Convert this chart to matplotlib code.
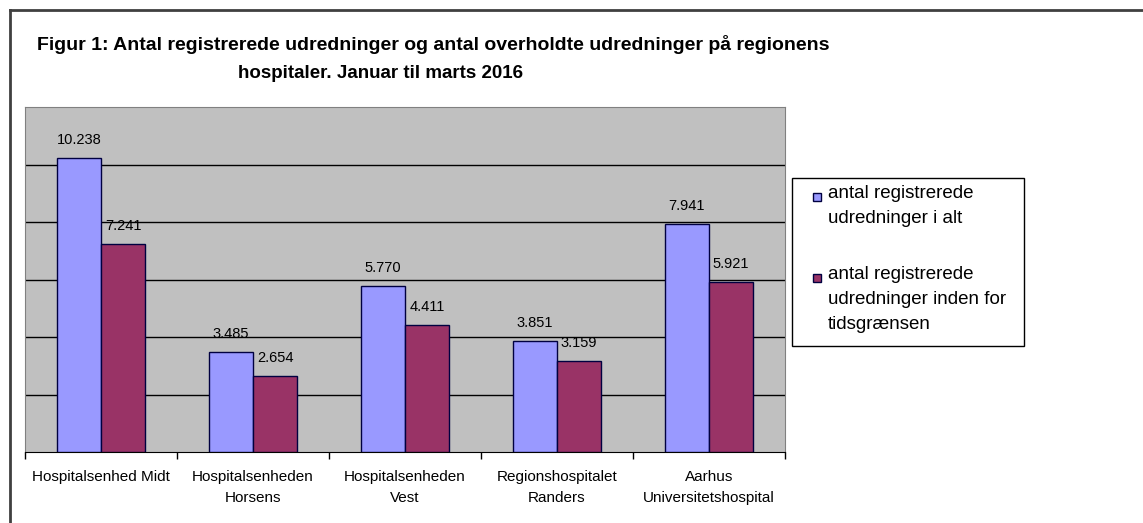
import numpy as np
import matplotlib.pyplot as plt
from matplotlib.patches import Rectangle
from matplotlib.lines import Line2D

plt.rcParams['font.family'] = ['Liberation Sans', 'DejaVu Sans']

hospitals = ['Hospitalsenhed Midt', 'Hospitalsenheden\nHorsens',
             'Hospitalsenheden\nVest', 'Regionshospitalet\nRanders',
             'Aarhus\nUniversitetshospital']
total = [10238, 3485, 5770, 3851, 7941]
within = [7241, 2654, 4411, 3159, 5921]
legend_labels = ['antal registrerede\nudredninger i alt',
                 'antal registrerede\nudredninger inden for\ntidsgrænsen']
title1 = 'Figur 1: Antal registrerede udredninger og antal overholdte udredninger på regionens'
title2 = 'hospitaler. Januar til marts 2016'

blue = '#9999FF'
red = '#993366'

W, H = 1143, 523
fig = plt.figure(figsize=(W / 100, H / 100), dpi=100)
ax = fig.add_axes([25 / W, 1 - 452 / H, 760 / W, 345 / H])
ax.set_facecolor('#C0C0C0')

x = np.arange(len(hospitals))
w = 0.29
b1 = ax.bar(x - w / 2, total, w, color=blue, edgecolor='#000040', linewidth=1, zorder=3)
b2 = ax.bar(x + w / 2, within, w, color=red, edgecolor='#000040', linewidth=1, zorder=3)

def fmt(v):
    return f'{v:,}'.replace(',', '.')

for bars, vals in [(b1, total), (b2, within)]:
    for r, v in zip(bars, vals):
        ax.annotate(fmt(v), (r.get_x() + r.get_width() / 2, v),
                    xytext=(0, 14), textcoords='offset pixels',
                    ha='center', va='baseline', fontsize=10.5, zorder=4)

ax.set_ylim(0, 12000)
ax.set_xlim(-0.5, len(hospitals) - 0.5)
ax.set_yticks([2000, 4000, 6000, 8000, 10000])
ax.yaxis.grid(True, color='black', linewidth=1)
ax.set_axisbelow(True)
ax.tick_params(axis='y', length=0, labelleft=False)

ax.set_xticks(x)
ax.set_xticklabels(hospitals, fontsize=11, linespacing=1.6)
ax.set_xticks(np.arange(-0.5, len(hospitals)), minor=True)
ax.tick_params(axis='x', which='major', length=0, pad=13)
ax.tick_params(axis='x', which='minor', length=5, width=1, color='black')

for s in ['left', 'top', 'right']:
    ax.spines[s].set_color('#808080')
ax.spines['bottom'].set_color('black')

# title
fig.text(37 / W, 1 - 50 / H, title1, fontsize=14, fontweight='bold', va='baseline')
fig.text(380 / W, 1 - 78 / H, title2, fontsize=13.5, fontweight='bold', va='baseline', ha='center')

# outer frame (top and left only visible)
fig.add_artist(Line2D([10 / W, 1], [1 - 10 / H, 1 - 10 / H], color='#404040', linewidth=2))
fig.add_artist(Line2D([10 / W, 10 / W], [0, 1 - 10 / H], color='#404040', linewidth=2))

# legend box
fig.add_artist(Rectangle((792 / W, 1 - 346 / H), 232 / W, 168 / H, transform=fig.transFigure,
                         facecolor='white', edgecolor='black', linewidth=1))
for col, lab, ytop in [(blue, legend_labels[0], 197), (red, legend_labels[1], 278)]:
    fig.add_artist(Rectangle((813 / W, 1 - (ytop + 4) / H), 8 / W, 8 / H,
                             transform=fig.transFigure, facecolor=col,
                             edgecolor='#000040', linewidth=1))
    fig.text(828 / W, 1 - (ytop - 12) / H, lab, fontsize=13.5, va='top', ha='left',
             linespacing=1.62)

fig.savefig('out.png', dpi=100)
